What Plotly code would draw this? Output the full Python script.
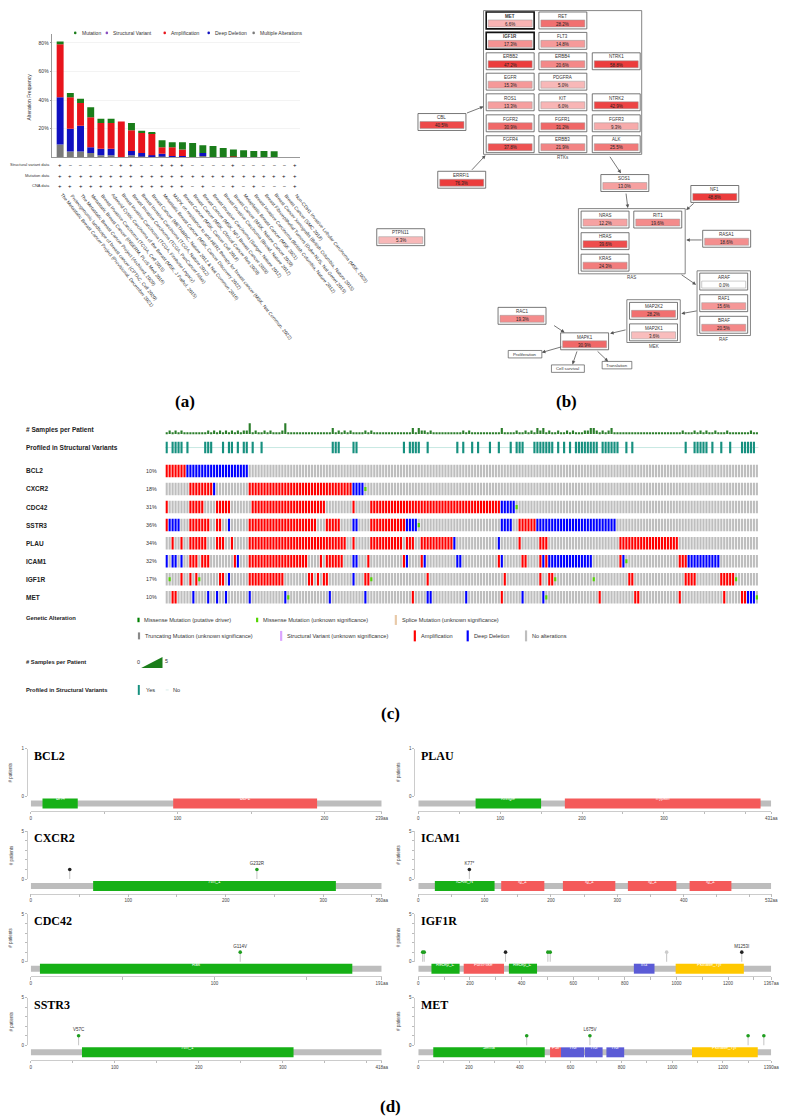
import plotly.graph_objects as go

W, H = 789, 1117
OFF = 8  # the page body adds an 8px margin, so shift everything back by it


def px(x):
    return (x - OFF) / W


def py(y):
    return 1 - (y - OFF) / H


# ---------------- (a) cancer type summary ----------------
studies = [
    "The Metastatic Breast Cancer Project (Provisional, December 2021)",
    "Proteogenomic landscape of breast cancer (CPTAC, Cell 2020)",
    "The Metastatic Breast Cancer Project (Archived, 2020)",
    "Metastatic Breast Cancer (INSERM, PLoS Med 2016)",
    "Breast Invasive Carcinoma (TCGA, Cell 2015)",
    "Adenoid Cystic Carcinoma of the Breast (MSK, J Pathol. 2015)",
    "Breast Invasive Carcinoma (TCGA, Firehose Legacy)",
    "Breast Invasive Carcinoma (TCGA, PanCancer Atlas)",
    "Breast Invasive Carcinoma (TCGA, Nature 2012)",
    "Breast Cancer (METABRIC, Nature 2012 & Nat Commun 2016)",
    "Metastatic Breast Cancer (MSK, Cancer Discovery 2022)",
    "MAPK on resistance to anti-HER2 therapy for breast cancer (MSK, Nat Commun. 2022)",
    "Breast Cancer (MSK, Cancer Cell 2018)",
    "Breast Cancer (MSK, Clinical Cancer Res 2020)",
    "Breast Cancer (MSK, NPJ Breast Cancer 2019)",
    "Breast Invasive Carcinoma (Sanger, Nature 2012)",
    "Breast Invasive Carcinoma (Broad, Nature 2012)",
    "Breast Cancer (MSK, Nature Cancer 2020)",
    "Metaplastic Breast Cancer (MSK 2021)",
    "Breast Invasive Carcinoma (British Columbia, Nature 2012)",
    "Breast Fibroepithelial Tumors (Duke-NUS, Nat Genet 2015)",
    "Breast Cancer Xenografts (British Columbia, Nature 2015)",
    "Breast Cancer (SMC 2018)",
    "Non-CDH1 Invasive Lobular Carcinoma (MSK, 2023)",
]
multiple_alt = [9, 4, 4, 3, 1.5, 1.5, 0, 1.5, 0.5, 0.5, 0.5, 0, 0, 0, 1, 0, 0, 0, 0, 0, 0, 0, 0, 0]
deep_deletion = [33, 16, 18, 4, 4.5, 4.5, 0, 3, 2.5, 1, 2, 1, 1, 0, 2, 0, 0, 0, 0, 0, 0, 0, 0, 0]
amplification = [37, 22, 16, 21, 18, 18, 25, 14.5, 14, 15.5, 4.5, 6, 4.5, 0, 0, 0, 0, 0.5, 0, 0, 0, 0, 0, 0]
mutation = [2, 3, 3, 7, 3, 3, 0, 5, 1.5, 0.5, 5, 3.5, 5, 10, 5.5, 8, 6.5, 5, 5, 4.5, 4.5, 4.3, 0, 0]
sv_data = "+-----++--+++----+-----+"
mut_data = "++++++++++++++++++++++++"
cna_data = "+++++++++++++-+--+-+---+"
a_legend = ["Mutation", "Structural Variant", "Amplification", "Deep Deletion", "Multiple Alterations"]

# ---------------- (b) pathway ----------------
path_genes = ["MET", "RET", "IGF1R", "FLT3", "ERBB2", "ERBB4", "NTRK1", "EGFR", "PDGFRA",
              "ROS1", "KIT", "NTRK2", "FGFR2", "FGFR1", "FGFR3", "FGFR4", "ERBB3", "ALK",
              "CBL", "ERRFI1", "SOS1", "PTPN11", "NRAS", "RIT1", "HRAS", "KRAS", "NF1",
              "RASA1", "ARAF", "RAF1", "BRAF", "MAP2K2", "MAP2K1", "RAC1", "MAPK1"]
path_pct = [6.6, 28.2, 17.3, 14.8, 47.2, 20.6, 58.8, 15.3, 5.0,
            13.3, 6.0, 42.9, 30.9, 31.2, 9.3, 37.8, 21.9, 25.5,
            40.5, 76.3, 13.0, 5.3, 12.2, 19.6, 39.6, 24.3, 48.8,
            18.6, 0.0, 15.6, 20.5, 28.2, 3.6, 19.3, 30.9]
query_genes = ["MET", "IGF1R"]
outcomes = ["Proliferation", "Cell survival", "Translation"]

# ---------------- (c) oncoprint ----------------
onco_genes = ["BCL2", "CXCR2", "CDC42", "SSTR3", "PLAU", "ICAM1", "IGF1R", "MET"]
onco_pct = ["10%", "18%", "31%", "36%", "34%", "32%", "17%", "10%"]
# run-length rows: A amplification, D deep deletion, G missense (unknown), N no alteration
onco_rle = {
    "BCL2": "A7 D21 N172",
    "CXCR2": "N8 A8 D1 N11 A35 D4 G1 N132",
    "CDC42": "A1 N7 A5 N4 A5 N7 A25 N9 A1 N5 A44 D5 G1 N81",
    "SSTR3": "A1 D4 N3 A7 N2 A2 N2 D1 N6 A23 N3 A5 N4 D2 N4 A12 D4 G1 N27 D4 N2 A6 D27 N48",
    "PLAU": "N2 A1 N2 A1 N2 A6 N3 A3 N2 A1 N5 A33 N2 A1 N5 A11 N1 A3 N2 A11 D1 N14 D1 N6 A1 N6 A3 N24 A20 N27",
    "ICAM1": "D1 N1 D2 N1 D1 N2 A3 N1 A3 N8 A1 D1 N3 A20 N4 A1 N1 A6 N3 D2 N3 A1 N11 A1 D1 N4 A1 D1 "
             "N10 D2 N12 A1 D1 N6 A2 N4 A1 D1 A1 D15 N9 A1 D1 G1 N17 A3 D11 N13",
    "IGF1R": "N1 G1 N3 A1 N2 A1 N1 A1 G1 N6 A2 N1 D1 N6 A12 N8 A2 N1 A1 N1 A2 N8 D1 N3 A2 G1 N18 "
             "A1 N25 A1 N11 A1 N2 A2 G1 N12 G1 N11 A2 N17 A4 N8 A5 G1 N7",
    "MET": "N2 A2 N5 D1 N4 D1 N2 D1 N2 D1 N7 D1 N11 D1 G1 N13 D1 N11 D1 N15 A1 N4 D2 N11 D1 N11 A1 "
           "N6 D1 N6 D1 G1 N17 A1 N11 A2 N13 A1 N14 A1 N5 A2 D3 G1",
}
samples_per_patient = ("12121211111111212121" "21212122512112121112" "51111111111111113121"
                       "21211112121111111111" "11131322121111111111" "21211111111113111121"
                       "12121323121121121211" "12233212123111111111" "11111111111111211121"
                       "21211211121111111211")
sv_profiled = ("Y1 N1 Y4 N1 Y1 N5 Y3 N3 Y1 N1 Y2 N1 Y1 N1 Y2 N1 Y1 N2 Y1 N23 Y3 N4 Y2 N15 Y1 N1 Y4 "
               "N2 Y1 N9 Y1 N1 Y1 N2 Y1 N1 Y1 N3 Y1 N2 Y1 N3 Y1 N1 Y3 N3 Y7 N1 Y1 N1 Y1 N1 Y1 N1 Y8 "
               "N1 Y6 N2 Y1 N1 Y1 N17 Y1 N2 Y5 N1 Y1 N2 Y1 N2 Y1 N3 Y5 N1")
alt_legend = [
    ["Missense Mutation (putative driver)", "Missense Mutation (unknown significance)",
     "Splice Mutation (unknown significance)"],
    ["Truncating Mutation (unknown significance)", "Structural Variant (unknown significance)",
     "Amplification", "Deep Deletion", "No alterations"],
]

# ---------------- (d) lollipops ----------------
lol_genes = ["BCL2", "CXCR2", "CDC42", "SSTR3", "PLAU", "ICAM1", "IGF1R", "MET"]
lol_length = [239, 360, 191, 418, 431, 532, 1367, 1390]
lol_ymax = [1, 5, 5, 5, 1, 5, 5, 5]
lol_domains = {
    "BCL2": [("BH4", 8, 32), ("Bcl-2", 97, 195)],
    "CXCR2": [("7tm_1", 64, 313)],
    "CDC42": [("Ras", 5, 175)],
    "SSTR3": [("7tm_1", 61, 313)],
    "PLAU": [("Kringle", 70, 150), ("Trypsin", 179, 418)],
    "ICAM1": [("ICAM_N", 25, 115), ("Ig_2", 125, 190), ("Ig_2", 218, 297),
              ("Ig_2", 316, 389), ("Ig_2", 409, 472)],
    "IGF1R": [("Recep_L", 51, 160), ("Furin-like", 176, 332), ("Recep_L", 351, 460),
              ("fn3", 835, 915), ("Pkinase_Tyr", 997, 1261)],
    "MET": [("Sema", 59, 498), ("PSI", 519, 562), ("TIG", 562, 653), ("TIG", 656, 726),
            ("TIG", 741, 811), ("Pkinase_Tyr", 1078, 1337)],
}
# (position, patients, label, type) m missense, t truncating, o other
lol_mutations = {
    "BCL2": [],
    "CXCR2": [(40, 1, "", "t"), (232, 1, "G232R", "m")],
    "CDC42": [(114, 1, "G114V", "m")],
    "SSTR3": [(57, 1, "V57C", "m")],
    "PLAU": [],
    "ICAM1": [(77, 1, "K77*", "t")],
    "IGF1R": [(17, 1, "", "m"), (23, 1, "", "m"), (338, 1, "", "t"), (502, 1, "", "m"),
              (511, 1, "", "m"), (962, 1, "", "o"), (1253, 1, "M1253I", "t")],
    "MET": [(427, 1, "", "m"), (676, 1, "L675V", "m"), (1299, 1, "", "m"), (1361, 1, "", "m")],
}

# ---------------- styles ----------------
SANS = "Liberation Sans"
SERIF = "Liberation Serif"
C_MUT, C_SV, C_AMP, C_DEL, C_MULTI = "#1a7d1a", "#8a4fc0", "#e8141c", "#1010c0", "#7a7a7a"
ONCO_C = {"N": "#bebebe", "A": "#ff0000", "D": "#0000ff", "G": "#53d400"}
DOM_C = {"BH4": "#16b016", "Bcl-2": "#f45a5a", "7tm_1": "#16b016", "Ras": "#16b016",
         "Kringle": "#16b016", "Trypsin": "#f45a5a", "ICAM_N": "#16b016", "Ig_2": "#f45a5a",
         "Recep_L": "#16b016", "Furin-like": "#f45a5a", "fn3": "#5b5bd6",
         "Pkinase_Tyr": "#ffc800", "Sema": "#16b016", "PSI": "#f45a5a", "TIG": "#5b5bd6"}
MUT_C = {"m": "#1f9e1f", "t": "#222222", "o": "#cccccc"}

fig = go.Figure()
shapes, annos = [], []


def prect(x0, y0, x1, y1, fill, line="rgba(0,0,0,0)", lw=0):
    shapes.append(dict(type="rect", xref="paper", yref="paper", x0=px(x0), x1=px(x1),
                       y0=py(y1), y1=py(y0), fillcolor=fill, line=dict(color=line, width=lw),
                       layer="above"))


def ptext(x, y, s, size=5, color="#333", xa="center", font=SANS, **kw):
    annos.append(dict(x=px(x), y=py(y), xref="paper", yref="paper", text=s, showarrow=False,
                      xanchor=xa, yanchor="middle", font=dict(family=font, size=size, color=color),
                      **kw))


def decode(rle):
    out = []
    for tok in rle.split():
        out += [tok[0]] * int(tok[1:])
    return out


# ======== (a) ========
base = [0] * len(studies)
for name, vals, col in [("Multiple Alterations", multiple_alt, C_MULTI),
                        ("Deep Deletion", deep_deletion, C_DEL),
                        ("Amplification", amplification, C_AMP),
                        ("Mutation", mutation, C_MUT)]:
    fig.add_trace(go.Bar(x=list(range(len(studies))), y=vals, base=list(base), width=0.68,
                         marker=dict(color=col, line=dict(width=0)), name=name,
                         showlegend=False, hoverinfo="skip", xaxis="x", yaxis="y"))
    base = [b + v for b, v in zip(base, vals)]

leg_col = {"Mutation": C_MUT, "Structural Variant": C_SV, "Amplification": C_AMP,
           "Deep Deletion": C_DEL, "Multiple Alterations": C_MULTI}
for name, x in zip(a_legend, [75, 107, 165.5, 210, 255.5]):
    shapes.append(dict(type="circle", xref="paper", yref="paper", x0=px(x - 1.3), x1=px(x + 1.3),
                       y0=py(32.3), y1=py(29.7), fillcolor=leg_col[name], line=dict(width=0)))
    ptext(x + 4.5, 31, name, 5, "#333", "left")

ptext(28, 95, "Alteration Frequency", 5, "#333", textangle=-90)
for label, flags, yy in [("Structural variant data", sv_data, 163.5),
                         ("Mutation data", mut_data, 174.3),
                         ("CNA data", cna_data, 184.3)]:
    ptext(52, yy, label, 4.0, "#333", "right")
    for i, f in enumerate(flags):
        annos.append(dict(x=i, y=py(yy), xref="x", yref="paper", showarrow=False,
                          text="+" if f == "+" else "\u2013", xanchor="center", yanchor="middle",
                          font=dict(family=SANS, size=6 if f == "+" else 5, color="#111")))
for i, s in enumerate(studies):
    annos.append(dict(x=i - 0.35, y=py(189), xref="x", yref="paper", showarrow=False, text=s,
                      textangle=51, xanchor="left", yanchor="top",
                      font=dict(family=SANS, size=4.8, color="#333")))

# ======== (b) ========
node_xy = {
    "MET": (490.7, 10), "RET": (544, 10),
    "IGF1R": (490.7, 30.5), "FLT3": (544, 30.5),
    "ERBB2": (490.7, 51), "ERBB4": (544, 51), "NTRK1": (598, 51),
    "EGFR": (490.7, 71.5), "PDGFRA": (544, 71.5),
    "ROS1": (490.7, 92.2), "KIT": (544, 92.2), "NTRK2": (598, 92.2),
    "FGFR2": (490.7, 113.3), "FGFR1": (544, 113.3), "FGFR3": (598, 113.3),
    "FGFR4": (490.7, 134.3), "ERBB3": (544, 134.3), "ALK": (598, 134.3),
    "CBL": (421.7, 112), "ERRFI1": (441.7, 170), "SOS1": (606.7, 173.3), "PTPN11": (380, 227.7),
    "NRAS": (586.7, 210), "RIT1": (640, 210), "HRAS": (586.7, 231.7), "KRAS": (586.7, 253.3),
    "NF1": (697.7, 184.3), "RASA1": (709.7, 229.3),
    "ARAF": (706.7, 272.3), "RAF1": (706.7, 294), "BRAF": (706.7, 315.7),
    "MAP2K2": (635.7, 301.7), "MAP2K1": (635.7, 323.3),
    "RAC1": (502.7, 306.7), "MAPK1": (566, 332.3),
}
groups = [("RTKs", 488, 8.6, 648, 153), ("RAS", 584, 207.5, 692, 273),
          ("RAF", 704, 270, 758, 335), ("MEK", 633, 299, 687, 342)]
for label, x0, y0, x1, y1 in groups:
    prect(x0, y0, x1, y1, "rgba(0,0,0,0)", "#666", 0.8)
    ptext((x0 + x1) / 2, y1 + 3.6, label, 4.5, "#444")


def heat(p):
    if p <= 0:
        return "#ffffff"
    t = min(p / 45.0, 1.0)
    return "rgb(%d,%d,%d)" % (round(250 - 14 * t), round(200 - 140 * t), round(200 - 140 * t))


NW, NH = 48.5, 17
for g, p in zip(path_genes, path_pct):
    x, y = node_xy[g]
    bold = g in query_genes
    prect(x, y, x + NW, y + NH, "#ffffff", "#111" if bold else "#555", 1.6 if bold else 0.8)
    prect(x + 2, y + 8, x + NW - 2, y + NH - 2, heat(p), "#999", 0.5)
    ptext(x + NW / 2, y + 4.2, "<b>%s</b>" % g if bold else g, 4.5, "#333")
    ptext(x + NW / 2, y + 12.3, "%.1f%%" % p, 4.5, "#222")

out_box = {"Proliferation": (513, 350, 547, 357.5), "Cell survival": (556.7, 364.5, 590, 372),
           "Translation": (608, 361, 638, 368.5)}
for o in outcomes:
    x0, y0, x1, y1 = out_box[o]
    prect(x0, y0, x1, y1, "#ffffff", "#555", 0.7)
    ptext((x0 + x1) / 2, (y0 + y1) / 2, o, 4.3, "#333")

arrows = [((470, 112), (488, 105)), ((475, 170), (490, 154)), ((615, 154), (627, 172)),
          ((632, 191), (634, 207)), ((702, 201), (693, 209)), ((710, 239), (693, 239)),
          ((687, 273), (703, 284)), ((705, 310), (688, 313)), ((633, 329), (616, 333)),
          ((558, 324), (570, 332)), ((568, 346), (547, 352)), ((583, 349.5), (578, 364)),
          ((602, 349.5), (614, 361))]
for (tx, ty), (hx, hy) in arrows:
    annos.append(dict(x=px(hx), y=py(hy), xref="paper", yref="paper", ax=tx - hx, ay=ty - hy,
                      text="", showarrow=True, arrowhead=2, arrowsize=0.9, arrowwidth=0.8,
                      arrowcolor="#555"))

# ======== (c) ========
ROW0, PITCH, CH = 471, 18.14, 12.6
bars = {k: ([], []) for k in ["N", "A", "D", "G"]}
for r, g in enumerate(onco_genes):
    top = ROW0 + r * PITCH - CH / 2
    for c, s in enumerate(decode(onco_rle[g])):
        key = "N" if s == "G" else s
        bars[key][0].append(c)
        bars[key][1].append(top)
        if s == "G":
            bars["G"][0].append(c)
            bars["G"][1].append(top + CH / 3)
    ptext(23, ROW0 + r * PITCH, "<b>%s</b>" % g, 6.5, "#222", "left")
    ptext(160, ROW0 + r * PITCH, onco_pct[r], 5.3, "#333", "right")

for key in ["N", "A", "D", "G"]:
    xs, bs = bars[key]
    h = CH / 3 if key == "G" else CH
    fig.add_trace(go.Bar(x=xs, y=[h] * len(xs), base=bs, width=0.72,
                         marker=dict(color=ONCO_C[key], line=dict(width=0)),
                         showlegend=False, hoverinfo="skip", xaxis="x2", yaxis="y2"))

spp = [int(ch) for ch in samples_per_patient]
fig.add_trace(go.Bar(x=list(range(len(spp))), y=[-(1.2 + 2.4 * (v - 1)) for v in spp],
                     base=[434] * len(spp), width=0.72,
                     marker=dict(color="#2a7d2a", line=dict(width=0)),
                     showlegend=False, hoverinfo="skip", xaxis="x2", yaxis="y2"))
shapes.append(dict(type="line", xref="paper", yref="paper", x0=px(166), x1=px(766),
                   y0=py(447.5), y1=py(447.5), line=dict(color="#b9e2db", width=0.8), layer="below"))
svy = [c for c, s in enumerate(decode(sv_profiled)) if s == "Y"]
fig.add_trace(go.Bar(x=svy, y=[11.5] * len(svy), base=[441.8] * len(svy), width=0.72,
                     marker=dict(color="#16907f", line=dict(width=0)),
                     showlegend=False, hoverinfo="skip", xaxis="x2", yaxis="y2"))

ptext(23, 430, "<b># Samples per Patient</b>", 6.5, "#222", "left")
ptext(23, 447.5, "<b>Profiled in Structural Variants</b>", 6.5, "#222", "left")

# legend of (c)
ptext(23, 619, "<b>Genetic Alteration</b>", 5.8, "#222", "left")
leg_style = {
    "Missense Mutation (putative driver)": ("#008000", 4.5),
    "Missense Mutation (unknown significance)": ("#53d400", 4.5),
    "Splice Mutation (unknown significance)": ("#e8c9a8", 10),
    "Truncating Mutation (unknown significance)": ("#8a8a8a", 7),
    "Structural Variant (unknown significance)": ("#dba4ff", 10),
    "Amplification": ("#ff0000", 11),
    "Deep Deletion": ("#0000ff", 11),
    "No alterations": ("#bebebe", 11),
}
leg_x = [[139, 259, 399.3], [139.5, 283.3, 418.5, 472, 531]]
for row, yy in zip(range(2), [620.7, 636.7]):
    for name, x in zip(alt_legend[row], leg_x[row]):
        col, hh = leg_style[name]
        prect(x - 1.1, yy - hh / 2, x + 1.1, yy + hh / 2, col)
        ptext(x + 4, yy, name, 5.6, "#333", "left")

ptext(23, 662.7, "<b># Samples per Patient</b>", 5.8, "#222", "left")
ptext(139.3, 663, "0", 5.4, "#333")
shapes.append(dict(type="path", xref="paper", yref="paper",
                   path="M %f %f L %f %f L %f %f Z" % (px(141.7), py(669), px(163.3), py(669),
                                                        px(163.3), py(658)),
                   fillcolor="#1a7d1a", line=dict(width=0)))
ptext(167, 662, "5", 5.4, "#333")

ptext(23, 690.7, "<b>Profiled in Structural Variants</b>", 5.8, "#222", "left")
prect(138.3, 686, 140.3, 696, "#16907f")
ptext(144.5, 691.5, "Yes", 5.6, "#333", "left")
shapes.append(dict(type="line", xref="paper", yref="paper", x0=px(166.5), x1=px(169.5),
                   y0=py(691), y1=py(691), line=dict(color="#cfe9e4", width=0.8)))
ptext(172, 691.5, "No", 5.6, "#333", "left")

# ======== (d) ========
axes = {}
for i, g in enumerate(lol_genes):
    k = i + 3
    col, row = i // 4, i % 4
    x0, x1 = [(30, 385), (422, 779)][col]
    zero = [798, 881, 964, 1048][row]
    top = zero - 48
    L, ym = lol_length[i], lol_ymax[i]
    step = 100 if L < 1000 else 200
    tv, tt = [], []
    v = 0
    while v < L:
        tv.append(v)
        tt.append(str(v) if v % step == 0 and L - v > 0.1 * L else "")
        v += step // 2
    tv.append(L)
    tt.append("%daa" % L)
    axes["xaxis%d" % k] = dict(domain=[px(x0), px(x1)], range=[0, L], anchor="free",
                               position=py(zero + 14.5), showline=True, linecolor="#cccccc",
                               linewidth=0.8, ticks="outside", ticklen=2.5, tickcolor="#bbbbbb",
                               tickvals=tv, ticktext=tt, showgrid=False, zeroline=False,
                               tickfont=dict(family=SANS, size=4.5, color="#444"))
    axes["yaxis%d" % k] = dict(domain=[py(zero), py(top)], range=[0, ym], anchor="free",
                               position=px(x0 - 4), showline=True, linecolor="#cccccc",
                               linewidth=0.8, ticks="outside", ticklen=2, tickcolor="#bbbbbb",
                               tickvals=list(range(ym + 1)),
                               ticktext=[str(t) if t in (0, ym) else "" for t in range(ym + 1)],
                               showgrid=False, zeroline=False,
                               tickfont=dict(family=SANS, size=4.5, color="#444"))
    # keep every lollipop axis pair bound to its own subplot
    fig.add_trace(go.Scatter(x=[None], y=[None], mode="markers", showlegend=False,
                             hoverinfo="skip", xaxis="x%d" % k, yaxis="y%d" % k))
    # protein backbone and domains
    shapes.append(dict(type="rect", xref="x%d" % k, yref="paper", x0=0, x1=L,
                       y0=py(zero + 10), y1=py(zero + 4), fillcolor="#bdbdbd", line=dict(width=0)))
    for name, s, e in lol_domains[g]:
        shapes.append(dict(type="rect", xref="x%d" % k, yref="paper", x0=s, x1=e,
                           y0=py(zero + 12), y1=py(zero + 2), fillcolor=DOM_C[name],
                           line=dict(width=0)))
        wpx = (e - s) * (x1 - x0) / L
        shown = name if len(name) * 2.6 < wpx else name[:5] + "..."
        annos.append(dict(x=(s + e) / 2, y=py(zero + 7), xref="x%d" % k, yref="paper",
                          text=shown, showarrow=False, font=dict(family=SANS, size=4.5,
                                                                 color="white")))
    muts = lol_mutations[g]
    if muts:
        y_base = -4 / (48.0 / ym)
        lx, ly = [], []
        for p, n, lab, t in muts:
            lx += [p, p, None]
            ly += [y_base, n, None]
        fig.add_trace(go.Scatter(x=lx, y=ly, mode="lines", line=dict(color="#b5b5b5", width=0.8),
                                 cliponaxis=False, showlegend=False, hoverinfo="skip",
                                 xaxis="x%d" % k, yaxis="y%d" % k))
        fig.add_trace(go.Scatter(x=[m[0] for m in muts], y=[m[1] for m in muts],
                                 mode="markers+text", text=[m[2] for m in muts],
                                 textposition="top center",
                                 textfont=dict(family=SANS, size=4.5, color="#333"),
                                 marker=dict(size=3.6, color=[MUT_C[m[3]] for m in muts]),
                                 cliponaxis=False, showlegend=False, hoverinfo="skip",
                                 xaxis="x%d" % k, yaxis="y%d" % k))
    ptext(x0 + 1, top + 7, "<b>%s</b>" % g, 12, "#000", "left", SERIF)
    ptext(x0 - 20, zero - 24, "# patients", 4.5, "#444", textangle=-90)

# panel letters
for lab, x, y in [("(a)", 186, 401), ("(b)", 572, 401), ("(c)", 394, 715), ("(d)", 394, 1109)]:
    ptext(x, y, "<b>%s</b>" % lab, 17, "#000", "center", SERIF)

fig.update_layout(
    width=W, height=H, margin=dict(l=0, r=0, t=0, b=0),
    paper_bgcolor="white", plot_bgcolor="rgba(0,0,0,0)", barmode="overlay", showlegend=False,
    xaxis=dict(domain=[px(52), px(302)], range=[-0.75, 23.5], showline=True, linecolor="#999",
               linewidth=0.8, showticklabels=False, ticks="", showgrid=False, zeroline=False,
               anchor="y"),
    yaxis=dict(domain=[py(156), py(32)], range=[0, 86.3], tickvals=[20, 40, 60, 80],
               ticktext=["20%", "40%", "60%", "80%"], ticks="outside", ticklen=2,
               tickcolor="#999", showline=True, linecolor="#999", linewidth=0.8,
               showgrid=True, gridcolor="#f3f3f3", zeroline=False, anchor="x",
               tickfont=dict(family=SANS, size=5, color="#333")),
    xaxis2=dict(domain=[px(166), px(766)], range=[-0.5, 199.5], visible=False, anchor="y2"),
    yaxis2=dict(domain=[py(610), py(418)], range=[610, 418], visible=False, anchor="x2"),
    shapes=shapes, annotations=annos,
)
fig.update_layout(**axes)

fig.write_html("out.html")
